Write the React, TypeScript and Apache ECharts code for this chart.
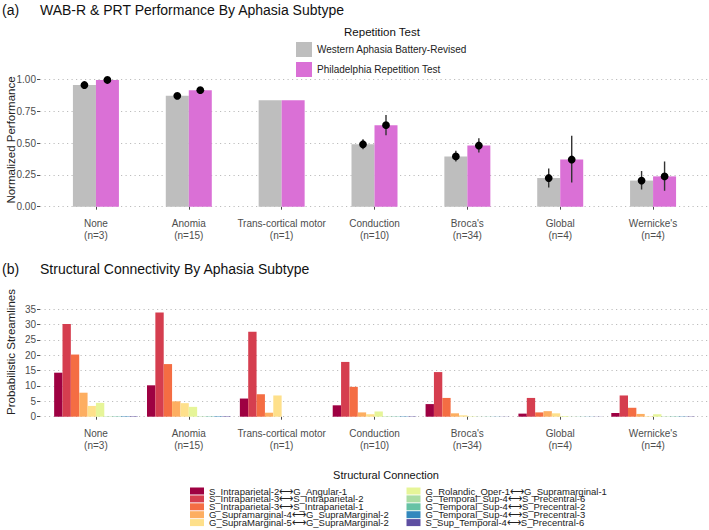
import React, { useEffect, useRef } from "react";
import * as echarts from "echarts";

const categories = [
  "None\n(n=3)",
  "Anomia\n(n=15)",
  "Trans-cortical motor\n(n=1)",
  "Conduction\n(n=10)",
  "Broca's\n(n=34)",
  "Global\n(n=4)",
  "Wernicke's\n(n=4)",
];

// Panel (a)
const wabMean = [0.955, 0.87, 0.835, 0.49, 0.395, 0.225, 0.205];
const wabLow = [0.942, 0.86, null, 0.45, 0.355, 0.15, 0.135];
const wabHigh = [0.965, 0.878, null, 0.53, 0.44, 0.3, 0.28];
const prtMean = [0.995, 0.915, 0.835, 0.64, 0.48, 0.37, 0.238];
const prtLow = [0.988, 0.905, null, 0.56, 0.425, 0.19, 0.125];
const prtHigh = [1.0, 0.925, null, 0.72, 0.537, 0.557, 0.355];

// Panel (b)
const connNames = [
  "S_Intraparietal-2⟷G_Angular-1",
  "S_Intraparietal-3⟷S_Intraparietal-2",
  "S_Intraparietal-3⟷S_Intraparietal-1",
  "G_Supramarginal-4⟷G_SupraMarginal-2",
  "G_SupraMarginal-5⟷G_SupraMarginal-2",
  "G_Rolandic_Oper-1⟷G_Supramarginal-1",
  "G_Temporal_Sup-4⟷S_Precentral-6",
  "G_Temporal_Sup-4⟷S_Precentral-2",
  "G_Temporal_Sup-4⟷S_Precentral-3",
  "S_Sup_Temporal-4⟷S_Precentral-6",
];
const conn1 = [14.3, 10.2, 5.9, 3.7, 4.1, 1.0, 1.2];
const conn2 = [30.1, 33.9, 27.6, 17.8, 14.5, 6.1, 6.9];
const conn3 = [20.2, 17.1, 7.3, 9.7, 6.1, 1.4, 2.9];
const conn4 = [7.8, 5.0, 1.3, 1.4, 1.1, 1.8, 0.9];
const conn5 = [3.5, 4.4, 6.9, 0.8, 0.45, 1.1, 0.15];
const conn6 = [4.5, 3.2, 0, 1.7, 0.12, 0.2, 0.8];
const conn7 = [0.12, 0.12, 0, 0.12, 0.05, 0.05, 0.1];
const conn8 = [0.12, 0.12, 0, 0.1, 0.05, 0.05, 0.1];
const conn9 = [0.15, 0.15, 0, 0.12, 0.05, 0.05, 0.1];
const conn10 = [0.15, 0.15, 0, 0.12, 0.05, 0.05, 0.1];
const connValues = [conn1, conn2, conn3, conn4, conn5, conn6, conn7, conn8, conn9, conn10];
const connColors = [
  "#9E0142", "#D53E4F", "#F46D43", "#FDAE61", "#FEE08B",
  "#E6F598", "#ABDDA4", "#66C2A5", "#3288BD", "#5E4FA2",
];

const FONT = "'Liberation Sans', Arial, Helvetica, sans-serif";
const GREY_TEXT = "#4D4D4D";
const GRID_LINE = { show: true, lineStyle: { color: "#BDBDBD", width: 1, type: [1.2, 3.3] as any } };
const BAR_W = 23;

export default function App() {
  const ref = useRef<HTMLDivElement>(null);
  useEffect(() => {
    if (!ref.current) return;
    const chart = echarts.init(ref.current, undefined, { renderer: "svg" });

    const errData: any[] = [];
    categories.forEach((_, i) => {
      if (wabLow[i] != null) errData.push([i, wabMean[i], wabLow[i], wabHigh[i], -1]);
      if (prtLow[i] != null) errData.push([i, prtMean[i], prtLow[i], prtHigh[i], 1]);
    });

    const topGrid = { top: 79.3, bottom: 323.3 };
    const botGrid = { top: 309, bottom: 113.3 };

    const tickStyle = { show: true, length: 3, lineStyle: { color: "#4D4D4D", width: 1 } };

    const connLegends = connNames.map((name, k) => ({
      data: [name],
      orient: "vertical",
      left: k < 5 ? 190 : 406.5,
      top: 486 + (k % 5) * 7.9,
      padding: 0,
      itemWidth: 14, itemHeight: 7, itemGap: 0, icon: "rect",
      selectedMode: false,
      textStyle: { fontSize: 9.5, color: "#222", fontFamily: FONT },
    }));

    const option: any = {
      animation: false,
      textStyle: { fontFamily: FONT },
      title: [
        { text: "(a)", left: 2, top: 3, padding: 0, textStyle: { fontSize: 14, fontWeight: "normal", color: "#111", fontFamily: FONT } },
        { text: "WAB-R & PRT Performance By Aphasia Subtype", left: 40, top: 3, padding: 0, textStyle: { fontSize: 14, fontWeight: "normal", color: "#111", fontFamily: FONT } },
        { text: "(b)", left: 2, top: 262, padding: 0, textStyle: { fontSize: 14, fontWeight: "normal", color: "#111", fontFamily: FONT } },
        { text: "Structural Connectivity By Aphasia Subtype", left: 40, top: 262, padding: 0, textStyle: { fontSize: 14, fontWeight: "normal", color: "#111", fontFamily: FONT } },
        { text: "Repetition Test", left: 382, textAlign: "center", top: 26, padding: 0, textStyle: { fontSize: 11.5, fontWeight: "normal", color: "#111", fontFamily: FONT } },
        { text: "Structural Connection", left: 386, textAlign: "center", top: 469, padding: 0, textStyle: { fontSize: 11, fontWeight: "normal", color: "#111", fontFamily: FONT } },
      ],
      legend: [
        {
          data: ["Western Aphasia Battery-Revised", "Philadelphia Repetition Test"],
          orient: "vertical", left: 296, top: 42, padding: 0,
          itemWidth: 16, itemHeight: 15, itemGap: 5, icon: "rect",
          selectedMode: false,
          textStyle: { fontSize: 10, color: "#222", fontFamily: FONT },
        },
        ...connLegends,
      ],
      grid: [
        { left: 40, right: 0, ...topGrid },
        { left: 49.5, right: 9.5, ...topGrid },
        { left: 40, right: 0, ...botGrid },
        { left: 49.5, right: 9.5, ...botGrid },
      ],
      xAxis: [
        { gridIndex: 0, type: "value", show: false, min: 0, max: 1 },
        {
          gridIndex: 1, type: "category", data: categories, offset: 6,
          axisLine: { show: false },
          axisTick: { ...tickStyle, alignWithLabel: true },
          axisLabel: { margin: 5, fontSize: 10, lineHeight: 12, color: GREY_TEXT, fontFamily: FONT, interval: 0 },
        },
        { gridIndex: 2, type: "value", show: false, min: 0, max: 1 },
        {
          gridIndex: 3, type: "category", data: categories, offset: 6,
          axisLine: { show: false },
          axisTick: { ...tickStyle, alignWithLabel: true },
          axisLabel: { margin: 5, fontSize: 10, lineHeight: 12, color: GREY_TEXT, fontFamily: FONT, interval: 0 },
        },
      ],
      yAxis: [
        {
          gridIndex: 0, type: "value", min: 0, max: 1, interval: 0.25,
          axisLine: { show: false }, axisTick: tickStyle,
          axisLabel: { margin: 4, fontSize: 10, color: GREY_TEXT, fontFamily: FONT, formatter: (v: number) => v.toFixed(2) },
          splitLine: GRID_LINE,
        },
        { gridIndex: 1, type: "value", min: 0, max: 1, show: false, splitLine: { show: false } },
        {
          gridIndex: 2, type: "value", min: 0, max: 35, interval: 5,
          axisLine: { show: false }, axisTick: tickStyle,
          axisLabel: { margin: 4, fontSize: 10, color: GREY_TEXT, fontFamily: FONT },
          splitLine: GRID_LINE,
        },
        { gridIndex: 3, type: "value", min: 0, max: 35, show: false, splitLine: { show: false } },
      ],
      graphic: [
        {
          type: "text", x: 11, y: 140, rotation: Math.PI / 2,
          style: { text: "Normalized Performance", align: "center", verticalAlign: "middle", fontSize: 11.5, fill: "#222", fontFamily: FONT },
        },
        {
          type: "text", x: 11, y: 352, rotation: Math.PI / 2,
          style: { text: "Probabilistic Streamlines", align: "center", verticalAlign: "middle", fontSize: 11.5, fill: "#222", fontFamily: FONT },
        },
      ],
      series: [
        {
          name: "Western Aphasia Battery-Revised", type: "bar", xAxisIndex: 1, yAxisIndex: 1,
          data: wabMean, barWidth: BAR_W, barGap: "0%", itemStyle: { color: "#BEBEBE" },
        },
        {
          name: "Philadelphia Repetition Test", type: "bar", xAxisIndex: 1, yAxisIndex: 1,
          data: prtMean, barWidth: BAR_W, barGap: "0%", itemStyle: { color: "#DA70D6" },
        },
        {
          name: "errors", type: "custom", xAxisIndex: 1, yAxisIndex: 1, data: errData, z: 10,
          renderItem: (params: any, api: any) => {
            const i = api.value(0);
            const side = api.value(4);
            const m = api.coord([i, api.value(1)]);
            const lo = api.coord([i, api.value(2)]);
            const hi = api.coord([i, api.value(3)]);
            const x = m[0] + side * (BAR_W / 2);
            return {
              type: "group",
              children: [
                { type: "line", shape: { x1: x, y1: lo[1], x2: x, y2: hi[1] }, style: { stroke: "#333", lineWidth: 1.4 } },
                { type: "circle", shape: { cx: x, cy: m[1], r: 3.9 }, style: { fill: "#000" } },
              ],
            };
          },
        },
        ...connNames.map((name, k) => ({
          name, type: "bar", xAxisIndex: 3, yAxisIndex: 3,
          data: connValues[k], barCategoryGap: "10%", barGap: "0%",
          itemStyle: { color: connColors[k] },
        })),
      ],
    };
    chart.setOption(option);
    return () => chart.dispose();
  }, []);
  return <div ref={ref} style={{ position: "fixed", left: 0, top: 0, width: 709, height: 530, background: "#fff" }} />;
}
